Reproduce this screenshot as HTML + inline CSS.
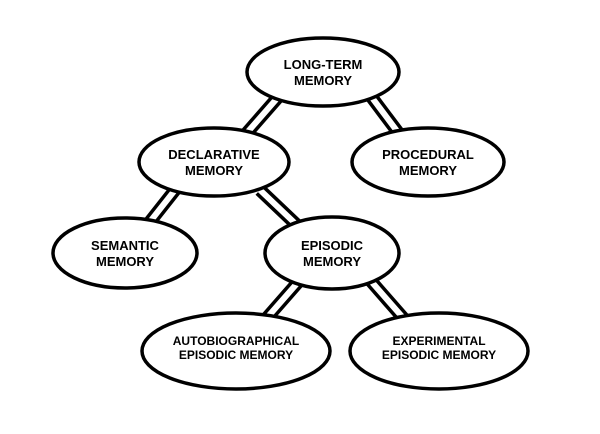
<!DOCTYPE html>
<html><head><style>body{margin:0;background:#fff}</style></head><body>
<svg width="600" height="429" viewBox="0 0 600 429" xmlns="http://www.w3.org/2000/svg">
<rect width="600" height="429" fill="#fff"/>
<g stroke-linecap="butt">
<g stroke="#000" stroke-width="13">
<line x1="280" y1="95" x2="245" y2="135"/>
<line x1="370" y1="95" x2="400" y2="135"/>
<line x1="175" y1="190" x2="145" y2="228"/>
<line x1="260" y1="190" x2="300" y2="228"/>
<line x1="300" y1="280" x2="265" y2="320"/>
<line x1="370" y1="280" x2="405" y2="320"/>
</g>
<g stroke="#fff" stroke-width="6">
<line x1="280" y1="95" x2="245" y2="135"/>
<line x1="370" y1="95" x2="400" y2="135"/>
<line x1="175" y1="190" x2="145" y2="228"/>
<line x1="260" y1="190" x2="300" y2="228"/>
<line x1="300" y1="280" x2="265" y2="320"/>
<line x1="370" y1="280" x2="405" y2="320"/>
</g>
</g>
<g fill="#fff" stroke="#000" stroke-width="3.5">
<ellipse cx="323" cy="72" rx="76" ry="34"/>
<ellipse cx="214" cy="162" rx="75" ry="34"/>
<ellipse cx="428" cy="162" rx="76" ry="34"/>
<ellipse cx="125" cy="253" rx="72" ry="35"/>
<ellipse cx="332" cy="253" rx="67" ry="36"/>
<ellipse cx="236" cy="351" rx="94" ry="38"/>
<ellipse cx="439" cy="351" rx="89" ry="38"/>
</g>
<g font-family="Liberation Sans, sans-serif" font-size="13" font-weight="bold" text-anchor="middle" fill="#000">
<text x="323" y="69">LONG-TERM</text><text x="323" y="85">MEMORY</text>
<text x="214" y="159">DECLARATIVE</text><text x="214" y="175">MEMORY</text>
<text x="428" y="159">PROCEDURAL</text><text x="428" y="175">MEMORY</text>
<text x="125" y="250">SEMANTIC</text><text x="125" y="266">MEMORY</text>
<text x="332" y="250">EPISODIC</text><text x="332" y="266">MEMORY</text>
<text x="236" y="345" font-size="12">AUTOBIOGRAPHICAL</text><text x="236" y="359" font-size="12">EPISODIC MEMORY</text>
<text x="439" y="345" font-size="12">EXPERIMENTAL</text><text x="439" y="359" font-size="12">EPISODIC MEMORY</text>
</g>
</svg>
</body></html>
